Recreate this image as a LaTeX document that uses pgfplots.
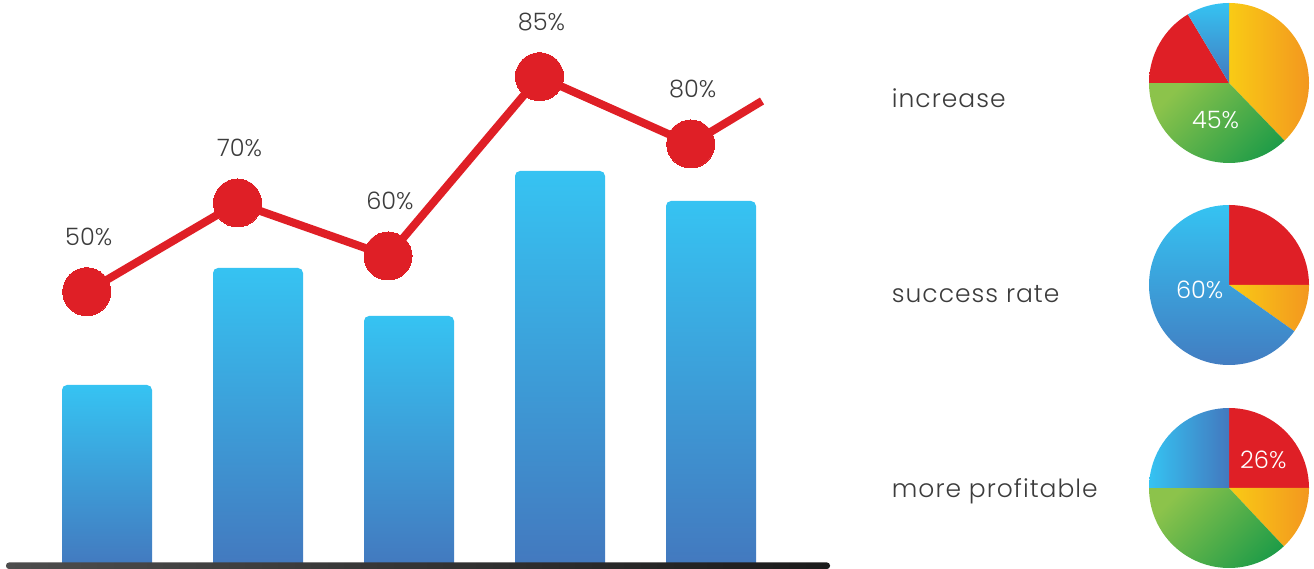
\documentclass[border=0pt]{standalone}
\usepackage{fontspec}
\setmainfont{Poppins Light}
\newfontfamily\labfont[LetterSpace=4]{Poppins Light}
\usepackage{pgfplots}
\pgfplotsset{compat=1.18}
\definecolor{cred}{HTML}{DF1F26}
\definecolor{txt}{HTML}{3C3C3C}
\definecolor{bartop}{HTML}{36C3F2}
\definecolor{barbot}{HTML}{4378BE}
\definecolor{oy1}{HTML}{F9CB15}
\definecolor{oy2}{HTML}{F3971F}
\definecolor{g1}{HTML}{8CC34B}
\definecolor{g2}{HTML}{1F9C48}
\definecolor{bl1}{HTML}{35C3F2}
\definecolor{bl2}{HTML}{4378BE}
\definecolor{base1}{HTML}{4D4D4D}
\definecolor{base2}{HTML}{1B1B1B}
% slice: cx, cy, from %, to %, shading options (clockwise from 12 o'clock)
\newcommand\slice[5]{%
  \shade[#5] (axis cs:#1,#2) -- ++({90-3.6*#3}:80pt)
    arc[start angle={90-3.6*#3}, end angle={90-3.6*#4}, radius=80pt] -- cycle;}
\begin{document}
\begin{tikzpicture}
\begin{axis}[x=1pt, y=1pt, xmin=0, xmax=1314, ymin=0, ymax=569,
  hide axis, clip=false,
  barsty/.style={ybar, bar width=90, bar shift=0pt, draw=none,
    top color=bartop, bottom color=barbot, rounded corners=5pt}]
% bars (one plot each so that each bar has its own gradient)
\addplot[barsty] coordinates {(107,184)};
\addplot[barsty] coordinates {(258,301)};
\addplot[barsty] coordinates {(409,253)};
\addplot[barsty] coordinates {(560,398)};
\addplot[barsty] coordinates {(711,368)};
% baseline
\shade[left color=base1, right color=base2, rounded corners=3pt]
  (axis cs:6,0) rectangle (axis cs:830,6.5);
% line
\addplot[cred, line width=8pt, no markers]
  coordinates {(86.7,277.3) (237.5,366) (388,313) (539.5,492.3) (690.7,425) (762,468)};
\addplot[color=cred, only marks, mark=*, mark size=24pt,
  mark options={fill=cred, draw=cred, line width=0pt},
  point meta=explicit symbolic, nodes near coords,
  every node near coord/.append style={font=\fontsize{24}{28}\selectfont,
    text=txt, inner sep=0pt, yshift=46pt, xshift=2pt}]
  coordinates {(86.7,277.3) [50\%] (237.5,366) [70\%] (388,313) [60\%]
               (539.5,492.3) [85\%] (690.7,425) [80\%]};
% pie 1
\slice{1229}{486}{0}{37.8}{left color=oy1, right color=oy2}
\slice{1229}{486}{37.8}{75}{top color=g1, bottom color=g2, shading angle=45}
\slice{1229}{486}{75}{91.4}{top color=cred, bottom color=cred}
\slice{1229}{486}{91.4}{100}{top color=bl1, bottom color=bl2}
% pie 2
\slice{1229}{284}{0}{25}{top color=cred, bottom color=cred}
\slice{1229}{284}{25}{34.8}{left color=oy1, right color=oy2}
\slice{1229}{284}{34.8}{100}{top color=bl1, bottom color=bl2}
% pie 3
\slice{1229}{81}{0}{25}{top color=cred, bottom color=cred}
\slice{1229}{81}{25}{38}{left color=oy1, right color=oy2}
\slice{1229}{81}{38}{75}{top color=g1, bottom color=g2, shading angle=45}
\slice{1229}{81}{75}{100}{left color=bl1, right color=bl2}
% pie labels
\node[text=white, font=\fontsize{24}{28}\selectfont] at (axis cs:1215.5,449) {45\%};
\node[text=white, font=\fontsize{24}{28}\selectfont] at (axis cs:1199.7,279.3) {60\%};
\node[text=white, font=\fontsize{24}{28}\selectfont] at (axis cs:1263.3,109) {26\%};
% category labels
\node[anchor=base west, inner sep=0pt, text=txt, font=\labfont\fontsize{25}{29}\selectfont]
  at (axis cs:891.7,461) {increase};
\node[anchor=base west, inner sep=0pt, text=txt, font=\labfont\fontsize{25}{29}\selectfont]
  at (axis cs:891.7,266) {success rate};
\node[anchor=base west, inner sep=0pt, text=txt, font=\labfont\fontsize{25}{29}\selectfont]
  at (axis cs:891.7,71) {more profitable};
\end{axis}
\pgfresetboundingbox
\path (current axis.south west) rectangle (current axis.north east);
\end{tikzpicture}
\end{document}
